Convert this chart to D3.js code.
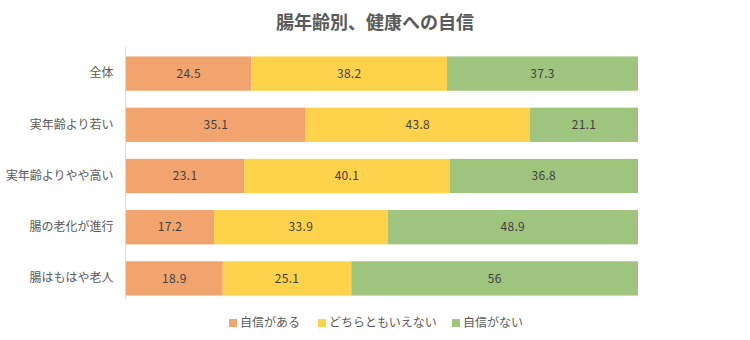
<!DOCTYPE html>
<html>
<head>
<meta charset="utf-8">
<script src="https://cdn.jsdelivr.net/npm/d3@7"></script>
<style>
  html, body { margin: 0; padding: 0; background: #fff; }
  svg { display: block; font-family: "Noto Sans CJK JP", "Noto Sans", sans-serif; }
</style>
</head>
<body>
<svg id="chart" width="750" height="340"></svg>
<script>
const categories = ["全体", "実年齢より若い", "実年齢よりやや高い", "腸の老化が進行", "腸はもはや老人"];
const seriesNames = ["自信がある", "どちらともいえない", "自信がない"];
const confident = [24.5, 35.1, 23.1, 17.2, 18.9];
const neutral = [38.2, 43.8, 40.1, 33.9, 25.1];
const notConfident = [37.3, 21.1, 36.8, 48.9, 56];
const colors = ["#F1A46E", "#FFD24C", "#9EC47E"];

const rows = categories.map((c, i) => ({
  cat: c,
  vals: [confident[i], neutral[i], notConfident[i]]
}));

const svg = d3.select("#chart");
const x = d3.scaleLinear().domain([0, 100]).range([126, 638]);
const y = d3.scaleBand().domain(categories).range([48, 304]).paddingInner(0.33).paddingOuter(0.165);

// title
svg.append("text")
  .attr("x", 375).attr("y", 29)
  .attr("text-anchor", "middle")
  .attr("font-size", 18).attr("font-weight", "bold")
  .attr("fill", "#595959")
  .text("腸年齢別、健康への自信");

// stacked segments
const stack = d3.stack().keys([0, 1, 2]).value((d, k) => d.vals[k]);
const layers = stack(rows);

layers.forEach((layer, k) => {
  const g = svg.append("g");
  g.selectAll("rect").data(layer).enter().append("rect")
    .attr("x", d => x(d[0]))
    .attr("y", d => y(d.data.cat))
    .attr("width", d => x(d[1]) - x(d[0]))
    .attr("height", y.bandwidth())
    .attr("fill", colors[k]);
  g.selectAll("text").data(layer).enter().append("text")
    .attr("x", d => (x(d[0]) + x(d[1])) / 2)
    .attr("y", d => y(d.data.cat) + y.bandwidth() / 2)
    .attr("dy", "0.35em")
    .attr("text-anchor", "middle")
    .attr("font-size", 12)
    .attr("letter-spacing", 0.3)
    .attr("fill", "#404040")
    .text(d => d.data.vals[k]);
});

// category axis
const yAxis = svg.append("g")
  .attr("transform", "translate(125.5,0)")
  .call(d3.axisLeft(y).tickSize(0).tickPadding(12));
yAxis.select(".domain").attr("stroke", "#D9D9D9").attr("d", "M0,47V299");
yAxis.selectAll("text")
  .attr("font-size", 12)
  .attr("fill", "#595959")
  .style("font-family", "'Noto Sans CJK JP', sans-serif");

// legend
const legendX = [229, 318, 452];
const legend = svg.append("g");
seriesNames.forEach((name, k) => {
  legend.append("rect")
    .attr("x", legendX[k]).attr("y", 319)
    .attr("width", 8).attr("height", 8)
    .attr("fill", colors[k]);
  legend.append("text")
    .attr("x", legendX[k] + 11).attr("y", 323)
    .attr("dy", "0.35em")
    .attr("font-size", 12)
    .attr("fill", "#595959")
    .text(name);
});
</script>
</body>
</html>
